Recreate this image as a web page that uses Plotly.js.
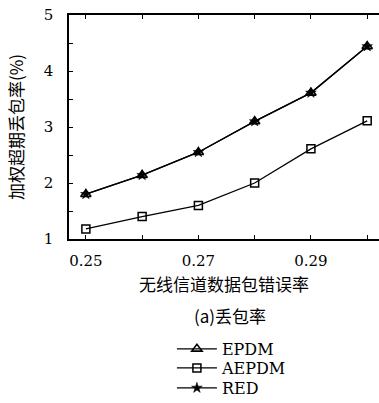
<!DOCTYPE html>
<html>
<head>
<meta charset="utf-8">
<script src="https://cdn.plot.ly/plotly-3.0.1.min.js"></script>
<style>
  html, body { margin: 0; padding: 0; background: #fff; }
  #chart { width: 379px; height: 403px; }
</style>
</head>
<body>
<div id="chart"></div>
<script>
// Packet error rate of the wireless channel
const errorRate = [0.25, 0.26, 0.27, 0.28, 0.29, 0.30];
// Weighted overdue packet loss rate (%)
const epdm  = [1.80, 2.14, 2.55, 3.10, 3.61, 4.44];
const aepdm = [1.18, 1.40, 1.60, 2.00, 2.61, 3.11];
const red   = [1.80, 2.14, 2.55, 3.10, 3.61, 4.44];

const xTickVals = [0.25, 0.26, 0.27, 0.28, 0.29, 0.30];
const xTickText = ['0.25', '', '0.27', '', '0.29', ''];
const yTickVals = [1, 1.5, 2, 2.5, 3, 3.5, 4, 4.5, 5];
const yTickText = ['1', '', '2', '', '3', '', '4', '', '5'];

const serif = 'DejaVu Serif';
const cjk = 'Noto Sans CJK SC';

const lineStyle = { color: '#000', width: 1.3 };

const traces = [
  {
    name: 'EPDM', x: errorRate, y: epdm, mode: 'lines+markers',
    line: lineStyle, legend: 'legend',
    marker: { symbol: 'triangle-up-open', size: 9, color: '#000',
              line: { color: '#000', width: 1.6 } }
  },
  {
    name: 'AEPDM', x: errorRate, y: aepdm, mode: 'lines+markers',
    line: lineStyle, legend: 'legend2',
    marker: { symbol: 'square-open', size: 8, color: '#000',
              line: { color: '#000', width: 1.5 } }
  },
  {
    name: 'RED', x: errorRate, y: red, mode: 'lines+markers',
    line: lineStyle, legend: 'legend3',
    marker: { symbol: 'star', size: 8, color: '#000',
              line: { color: '#000', width: 0.5 } }
  }
];

// one legend box per entry, stacked under the caption
function legendBox(yPos) {
  return {
    x: 0.332, xanchor: 'left', y: yPos, yanchor: 'middle',
    bgcolor: 'rgba(0,0,0,0)', borderwidth: 0,
    font: { family: serif, size: 16, color: '#000' },
    itemwidth: 40
  };
}

const layout = {
  width: 379, height: 403,
  margin: { l: 69, r: 0, t: 15, b: 164, autoexpand: false },
  paper_bgcolor: '#fff', plot_bgcolor: '#fff',
  font: { family: serif, color: '#000', size: 15 },
  showlegend: true,
  legend: legendBox(-0.491),
  legend2: legendBox(-0.576),
  legend3: legendBox(-0.665),
  xaxis: {
    range: [0.247, 0.3021],
    tickvals: xTickVals, ticktext: xTickText,
    ticks: 'inside', ticklen: 4, tickwidth: 1, tickcolor: '#000',
    showline: true, linecolor: '#000', linewidth: 1.6, mirror: 'ticks',
    showgrid: false, zeroline: false,
    ticklabelstandoff: 7,
    tickfont: { family: serif, size: 15 },
    title: { text: '无线信道数据包错误率', font: { family: cjk, size: 17 }, standoff: 10 }
  },
  yaxis: {
    range: [1, 5],
    tickvals: yTickVals, ticktext: yTickText,
    ticks: 'inside', ticklen: 4, tickwidth: 1, tickcolor: '#000',
    showline: true, linecolor: '#000', linewidth: 1.6,
    showgrid: false, zeroline: false,
    ticklabelstandoff: 11,
    tickfont: { family: serif, size: 15 },
    title: { text: '加权超期丢包率(%)', font: { family: cjk, size: 17 }, standoff: 16 }
  },
  annotations: [
    {
      text: '(a)丢包率', xref: 'paper', yref: 'paper',
      x: 0.52, y: -0.340, xanchor: 'center', yanchor: 'middle',
      showarrow: false, font: { family: cjk, size: 17 }
    }
  ]
};

Plotly.newPlot('chart', traces, layout, { staticPlot: true, displayModeBar: false });
</script>
</body>
</html>
